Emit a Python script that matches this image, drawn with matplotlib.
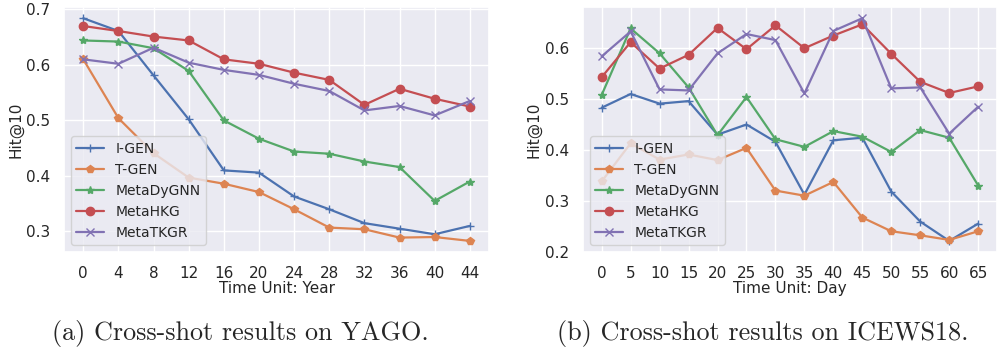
import numpy as np
import matplotlib
matplotlib.use('Agg')
from matplotlib import pyplot as plt
import seaborn as sns

## Data
methods = ['I-GEN', 'T-GEN', 'MetaDyGNN', 'MetaHKG', 'MetaTKGR']
markers = ['+', 'p', '*', 'o', 'x']

years = [0, 4, 8, 12, 16, 20, 24, 28, 32, 36, 40, 44]
yago_igen = [0.684, 0.661, 0.581, 0.502, 0.410, 0.406, 0.363, 0.340, 0.315, 0.305, 0.295, 0.310]
yago_tgen = [0.610, 0.504, 0.441, 0.397, 0.386, 0.371, 0.340, 0.307, 0.304, 0.289, 0.290, 0.283]
yago_dygnn = [0.644, 0.642, 0.630, 0.589, 0.500, 0.467, 0.444, 0.440, 0.426, 0.416, 0.355, 0.390]
yago_hkg = [0.670, 0.661, 0.651, 0.644, 0.610, 0.602, 0.586, 0.573, 0.528, 0.557, 0.539, 0.525]
yago_tkgr = [0.610, 0.602, 0.631, 0.604, 0.591, 0.582, 0.566, 0.553, 0.518, 0.526, 0.509, 0.535]

days = [0, 5, 10, 15, 20, 25, 30, 35, 40, 45, 50, 55, 60, 65]
icews_igen = [0.483, 0.510, 0.491, 0.496, 0.430, 0.450, 0.416, 0.312, 0.419, 0.424, 0.318, 0.259, 0.221, 0.255]
icews_tgen = [0.338, 0.413, 0.381, 0.391, 0.380, 0.404, 0.320, 0.310, 0.337, 0.267, 0.240, 0.232, 0.223, 0.240]
icews_dygnn = [0.508, 0.639, 0.590, 0.523, 0.429, 0.504, 0.421, 0.406, 0.437, 0.426, 0.396, 0.439, 0.424, 0.330]
icews_hkg = [0.543, 0.612, 0.560, 0.587, 0.640, 0.598, 0.645, 0.600, 0.625, 0.647, 0.589, 0.534, 0.512, 0.525]
icews_tkgr = [0.584, 0.633, 0.519, 0.517, 0.590, 0.628, 0.616, 0.511, 0.634, 0.659, 0.521, 0.523, 0.432, 0.485]

sns.set_theme(style='darkgrid')
colors = sns.color_palette('deep')


def draw(ax, x, series, xlabel, yticks):
    for k, (name, y) in enumerate(zip(methods, series)):
        ax.plot(x, y, marker=markers[k], color=colors[k], label=name,
                linewidth=1.6, markersize=6)
    ax.set_xticks(x)
    ax.set_yticks(yticks)
    ax.set_xlabel(xlabel, fontsize=11, labelpad=0)
    ax.set_ylabel('Hit@10', fontsize=11, labelpad=2)
    ax.tick_params(labelsize=11, pad=4)
    ax.legend(loc='lower left', fontsize=10)


fig = plt.figure(figsize=(9.98, 3.56), dpi=100)
ax1 = fig.add_axes([0.0641, 0.292, 0.426, 0.688])
ax2 = fig.add_axes([0.584, 0.292, 0.415, 0.688])

draw(ax1, years, [yago_igen, yago_tgen, yago_dygnn, yago_hkg, yago_tkgr],
     'Time Unit: Year', [0.3, 0.4, 0.5, 0.6, 0.7])
draw(ax2, days, [icews_igen, icews_tgen, icews_dygnn, icews_hkg, icews_tkgr],
     'Time Unit: Day', [0.2, 0.3, 0.4, 0.5, 0.6])

# Captions
fig.text(0.241, 0.062, '(a) Cross-shot results on YAGO.', ha='center', va='center',
         fontsize=18.8, family='cmr10')
fig.text(0.7645, 0.062, '(b) Cross-shot results on ICEWS18.', ha='center', va='center',
         fontsize=18.8, family='cmr10')

fig.savefig('out.png', dpi=100)
